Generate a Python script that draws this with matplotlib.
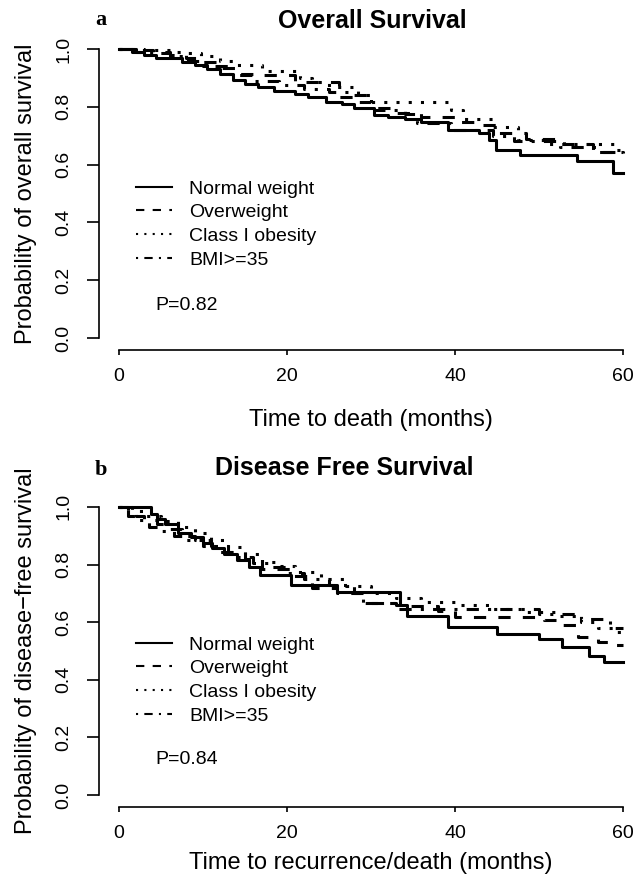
import matplotlib
matplotlib.use("Agg")
import matplotlib.pyplot as plt
from matplotlib.lines import Line2D

plt.rcParams['font.family'] = ['Liberation Sans', 'DejaVu Sans']

# ---- data (months, survival probability) ----
groups = ["Normal weight", "Overweight", "Class I obesity", "BMI>=35"]
styles = ["-", (0, (4, 4)), (0, (1, 3)), (0, (1, 3, 4, 3))]

# a: overall survival
os_normal_t = [0, 1.5, 3, 4.4, 7.5, 9, 10.5, 12, 13.6, 15, 16.5, 18.5, 21, 22.5, 24.6, 26.5, 28, 30.3,
               32, 34, 36, 39.2, 42.9, 44.1, 44.9, 47.8, 54.5, 58.8, 60]
os_normal_s = [1.0, 0.99, 0.98, 0.968, 0.956, 0.945, 0.93, 0.915, 0.893, 0.88, 0.87, 0.853, 0.845, 0.835,
               0.818, 0.81, 0.795, 0.772, 0.765, 0.758, 0.749, 0.72, 0.709, 0.685, 0.651, 0.634, 0.613, 0.57, 0.57]
os_over_t = [0, 2, 4, 6, 8, 10, 12, 14, 21, 26.2, 28, 30, 33, 36, 40, 43, 45, 48.5, 53, 56.5, 60]
os_over_s = [1.0, 0.995, 0.99, 0.98, 0.97, 0.955, 0.935, 0.91, 0.885, 0.835, 0.815, 0.796, 0.78, 0.765,
             0.748, 0.737, 0.71, 0.69, 0.67, 0.645, 0.645]
os_class1_t = [0, 3, 6, 8, 9.8, 12, 14, 17, 21.5, 23, 25, 28.5, 30, 39.5, 41, 44.5, 47.5, 50.5, 59, 60]
os_class1_s = [1.0, 0.995, 0.99, 0.985, 0.975, 0.96, 0.945, 0.925, 0.9, 0.885, 0.87, 0.84, 0.817, 0.79,
               0.758, 0.73, 0.685, 0.67, 0.65, 0.65]
os_bmi35_t = [0, 2, 4, 6, 8, 10, 13, 16, 19, 22, 25, 28, 30, 34, 35.5, 39.5, 44.5, 47, 52.5, 57, 60]
os_bmi35_s = [1.0, 0.99, 0.985, 0.975, 0.96, 0.94, 0.915, 0.89, 0.875, 0.86, 0.85, 0.84, 0.79, 0.775,
              0.745, 0.72, 0.7, 0.68, 0.66, 0.645, 0.64]

# b: disease free survival
dfs_normal_t = [0, 3.8, 4.5, 5.5, 7, 8.5, 10, 11.1, 12.5, 14, 15.5, 16.8, 20.5, 26, 33.5, 34.3, 39.2, 45,
                50, 52.7, 56, 57.8, 60]
dfs_normal_s = [1.0, 0.975, 0.958, 0.94, 0.911, 0.895, 0.875, 0.857, 0.835, 0.815, 0.79, 0.762, 0.73,
                0.703, 0.661, 0.62, 0.584, 0.56, 0.542, 0.513, 0.483, 0.46, 0.46]
dfs_over_t = [0, 1, 2, 3, 4.5, 6, 7.5, 9, 11, 13, 15, 17, 20.5, 23, 26, 29, 33, 34, 38, 40, 50.6, 52.7,
              54.7, 57, 58.8, 60]
dfs_over_s = [1.0, 0.985, 0.97, 0.955, 0.94, 0.925, 0.9, 0.885, 0.865, 0.845, 0.82, 0.786, 0.76, 0.72,
              0.7, 0.667, 0.66, 0.655, 0.64, 0.617, 0.608, 0.59, 0.55, 0.53, 0.52, 0.52]
dfs_class1_t = [0, 1.5, 3, 5, 7, 9, 11, 13, 15, 17, 19, 21, 24, 27, 30, 33, 36, 40, 44, 48, 52, 55, 57, 59, 60]
dfs_class1_s = [1.0, 0.985, 0.97, 0.95, 0.93, 0.91, 0.885, 0.86, 0.835, 0.81, 0.795, 0.775, 0.75, 0.725,
                0.70, 0.685, 0.67, 0.66, 0.645, 0.635, 0.62, 0.60, 0.58, 0.565, 0.565]
dfs_bmi35_t = [0, 1, 2, 3.5, 5, 6.5, 8, 10, 12, 14, 16, 18, 20, 22, 25, 28, 29, 33, 50, 55, 58.5, 60]
dfs_bmi35_s = [1.0, 0.97, 0.955, 0.93, 0.915, 0.9, 0.885, 0.865, 0.845, 0.825, 0.805, 0.79, 0.77, 0.75,
               0.73, 0.7, 0.665, 0.645, 0.63, 0.61, 0.58, 0.58]

panels = [
    dict(letter="a", title="Overall Survival", ylabel="Probability of overall survival",
         xlabel="Time to death (months)", p="P=0.82",
         curves=[(os_normal_t, os_normal_s), (os_over_t, os_over_s),
                 (os_class1_t, os_class1_s), (os_bmi35_t, os_bmi35_s)]),
    dict(letter="b", title="Disease Free Survival", ylabel="Probability of disease\u2212free survival",
         xlabel="Time to recurrence/death (months)", p="P=0.84",
         curves=[(dfs_normal_t, dfs_normal_s), (dfs_over_t, dfs_over_s),
                 (dfs_class1_t, dfs_class1_s), (dfs_bmi35_t, dfs_bmi35_s)]),
]

W, H = 637, 875
fig = plt.figure(figsize=(W / 100, H / 100), dpi=100)

# pixel layout of each panel: axes box top/bottom, title, legend, p-value, xlabel pad
layout = [
    dict(top=37.4, bottom=349.6, title_x=372, title_y=21, letter_y=20, leg_y=180, p_y=305, xpad=17.5),
    dict(top=495.4, bottom=806.5, title_x=344, title_y=468, letter_y=470, leg_y=636, p_y=760, xpad=7.5),
]

for pan, lay in zip(panels, layout):
    ax = fig.add_axes([99 / W, 1 - lay["bottom"] / H, 544 / W, (lay["bottom"] - lay["top"]) / H])
    ax.set_xlim(-2.4, 62.4)
    ax.set_ylim(-0.04, 1.04)
    for (t, s), ls in zip(pan["curves"], styles):
        ax.step(t, s, where="post", color="black", lw=2.2, linestyle=ls)

    for side in ["top", "right"]:
        ax.spines[side].set_visible(False)
    ax.spines["left"].set_bounds(0, 1)
    ax.spines["bottom"].set_bounds(0, 60)
    ax.spines["left"].set_linewidth(1.2)
    ax.spines["bottom"].set_linewidth(1.2)
    ax.set_xticks([0, 20, 40, 60])
    ax.set_yticks([0, 0.2, 0.4, 0.6, 0.8, 1.0])
    ax.set_yticklabels(["0.0", "0.2", "0.4", "0.6", "0.8", "1.0"])
    ax.tick_params(axis="x", length=3.6, width=1.2, pad=9.5, labelsize=14)
    ax.tick_params(axis="y", length=8.6, width=1.2, pad=10.5, labelsize=14)
    for lab in ax.get_yticklabels():
        lab.set_rotation(90)
        lab.set_va("center")
    ax.set_xlabel(pan["xlabel"], fontsize=17, labelpad=lay["xpad"])
    ax.set_ylabel(pan["ylabel"], fontsize=17, labelpad=13)

    handles = [Line2D([], [], color="black", lw=1.5, linestyle=ls) for ls in styles]
    ax.legend(handles, groups, loc="upper left", bbox_to_anchor=(136 / W, 1 - lay["leg_y"] / H),
              bbox_transform=fig.transFigure, frameon=False, fontsize=14, borderpad=0,
              borderaxespad=0, handlelength=1.85, handletextpad=0.9, labelspacing=0.31)

    fig.text(155 / W, 1 - lay["p_y"] / H, pan["p"], fontsize=14, va="center", ha="left")
    fig.text(lay["title_x"] / W, 1 - lay["title_y"] / H, pan["title"], fontsize=18,
             fontweight="bold", ha="center", va="center")
    fig.text(101 / W, 1 - lay["letter_y"] / H, pan["letter"], fontsize=16, fontweight="bold",
             family="Liberation Serif", ha="center", va="center")

fig.savefig("out.png", dpi=100)
